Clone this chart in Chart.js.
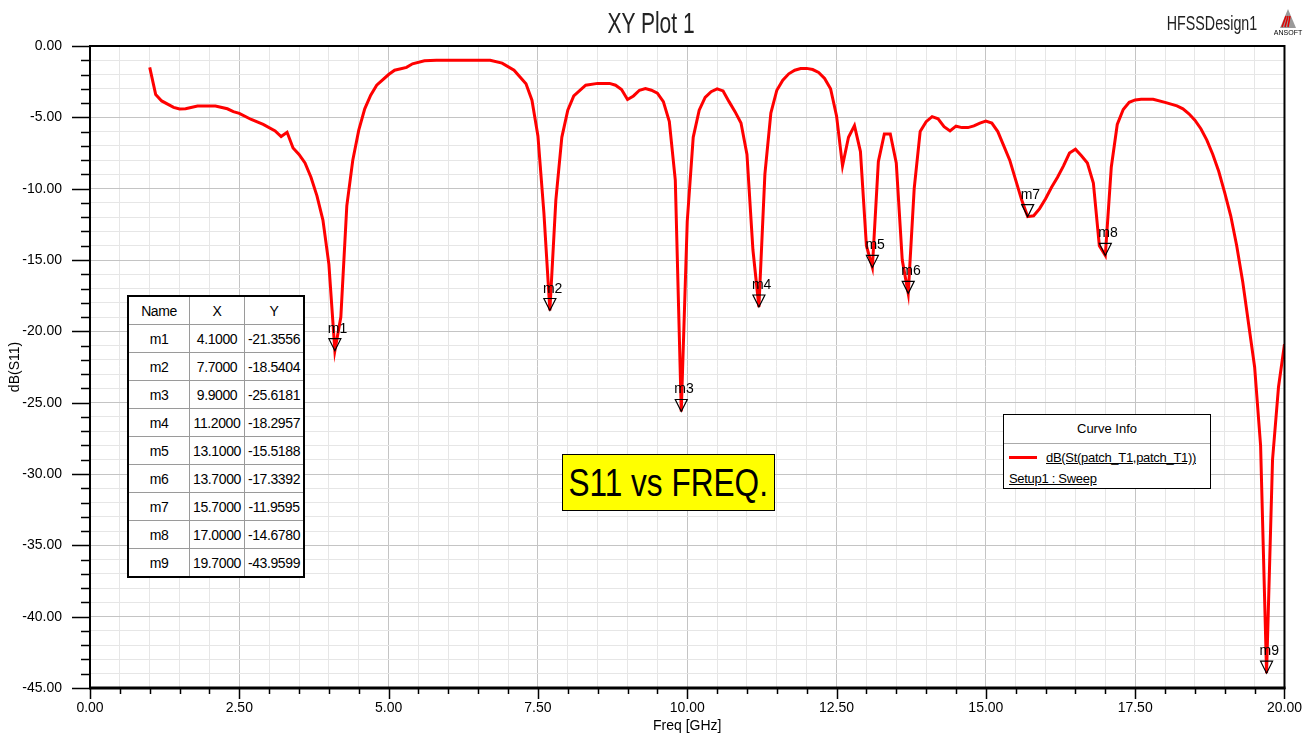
<!DOCTYPE html>
<html>
<head>
<meta charset="utf-8">
<script src="https://cdn.jsdelivr.net/npm/chart.js@4.4.1/dist/chart.umd.min.js"></script>
<style>
body { margin: 0; background: #fff; font-family: 'Liberation Sans', Arial, sans-serif; }
#wrap { position: relative; width: 1314px; height: 743px; overflow: hidden; }
#plot { position: absolute; left: 0; top: 0; }
.txt { position: absolute; white-space: nowrap; color: #000; line-height: 1; }
#title { left: 551px; top: 8px; width: 200px; text-align: center; font-size: 30px; color: #222; transform: scaleX(0.7); }
#design { left: 1112px; top: 12px; width: 200px; text-align: center; font-size: 21px; color: #222; transform: scaleX(0.68); }
#logo { position: absolute; left: 1274px; top: 8px; }
#markers { position: absolute; left: 127px; top: 295px; border-collapse: collapse; border: 2px solid #000; background: #fff; font-size: 14px; letter-spacing: -0.4px; }
#markers td { border: 1px solid #9a9a9a; height: 27px; padding: 0; text-align: center; }
#s11box { position: absolute; left: 562px; top: 454px; width: 213px; height: 57px; box-sizing: border-box; border: 1px solid #000; background: #ffff00; display: flex; align-items: center; justify-content: center; }
#s11box span { font-size: 39px; line-height: 1; transform: scaleX(0.81); white-space: nowrap; }
#curveinfo { position: absolute; left: 1003px; top: 414px; width: 208px; height: 75px; box-sizing: border-box; border: 1.5px solid #000; background: #fff; font-size: 13px; }
#curveinfo .head { height: 28px; line-height: 28px; text-align: center; border-bottom: 1px solid #aaa; }
#curveinfo .row1 { position: absolute; left: 42px; top: 35px; text-decoration: underline; letter-spacing: -0.3px; }
#curveinfo .swatch { position: absolute; left: 5px; top: 41px; width: 28px; height: 3px; background: #ff0000; }
#curveinfo .row2 { position: absolute; left: 5px; top: 56px; text-decoration: underline; letter-spacing: -0.3px; }
</style>
</head>
<body>
<div id="wrap">
  <canvas id="plot" width="1314" height="743"></canvas>
  <div id="title" class="txt">XY Plot 1</div>
  <div id="design" class="txt">HFSSDesign1</div>
  <svg id="logo" width="32" height="30" viewBox="0 0 32 30">
    <polygon points="14,1 6,20 22,20" fill="#9a9a9a"/>
    <line x1="12" y1="8" x2="8" y2="19" stroke="#e00000" stroke-width="1.5"/>
    <line x1="14" y1="8" x2="11" y2="19" stroke="#e00000" stroke-width="1.5"/>
    <line x1="16" y1="8" x2="14" y2="19" stroke="#e00000" stroke-width="1.5"/>
    <text x="14" y="27" font-size="7" text-anchor="middle" font-family="Liberation Sans, Arial" fill="#000">ANSOFT</text>
  </svg>
  <table id="markers"></table>
  <div id="s11box"><span>S11 vs FREQ.</span></div>
  <div id="curveinfo">
    <div class="head">Curve Info</div>
    <div class="swatch"></div>
    <div class="row1">dB(St(patch_T1,patch_T1))</div>
    <div class="row2">Setup1 : Sweep</div>
  </div>
</div>
<script>
// S11 CURVE
const freqGHz = [
  1.0, 1.1, 1.2, 1.4, 1.5, 1.6, 1.8, 2.1, 2.3, 2.4, 2.5, 2.7, 2.9, 3.1, 3.2, 3.3, 3.4, 3.5, 3.6, 3.7,
  3.8, 3.9, 4.0, 4.1, 4.2, 4.3, 4.4, 4.5, 4.6, 4.7, 4.8, 5.0, 5.1, 5.3, 5.4, 5.6, 5.8, 6.7, 6.9, 7.1,
  7.3, 7.4, 7.5, 7.6, 7.7, 7.8, 7.9, 8.0, 8.1, 8.3, 8.5, 8.7, 8.8, 8.9, 9.0, 9.1, 9.2, 9.3, 9.4, 9.5,
  9.6, 9.7, 9.8, 9.9, 10.0, 10.1, 10.2, 10.3, 10.4, 10.5, 10.6, 10.7, 10.8, 10.9, 11.0, 11.1, 11.2, 11.3, 11.4, 11.5,
  11.6, 11.7, 11.8, 11.9, 12.0, 12.1, 12.2, 12.3, 12.4, 12.5, 12.6, 12.7, 12.8, 12.9, 13.0, 13.1, 13.2, 13.3, 13.4, 13.5,
  13.6, 13.7, 13.8, 13.9, 14.0, 14.1, 14.2, 14.3, 14.4, 14.5, 14.6, 14.7, 14.8, 14.9, 15.0, 15.1, 15.2, 15.3, 15.4, 15.5,
  15.6, 15.7, 15.8, 15.9, 16.0, 16.1, 16.2, 16.3, 16.4, 16.5, 16.6, 16.7, 16.8, 16.9, 17.0, 17.1, 17.2, 17.3, 17.4, 17.5,
  17.6, 17.8, 18.0, 18.2, 18.3, 18.4, 18.5, 18.6, 18.7, 18.8, 18.9, 19.0, 19.1, 19.2, 19.3, 19.4, 19.5, 19.6, 19.7, 19.8,
  19.9, 20.0
];
const s11dB = [
  -1.5, -3.4, -3.85, -4.3, -4.42, -4.4, -4.2, -4.2, -4.4, -4.6, -4.72, -5.15, -5.5, -5.95, -6.35, -6.05, -7.15, -7.6, -8.2, -9.2,
  -10.5, -12.2, -15.3, -21.3556, -19.0, -11.2, -8.0, -5.9, -4.4, -3.45, -2.75, -2.0, -1.7, -1.5, -1.25, -1.03, -1.0, -1.0, -1.2, -1.7,
  -2.65, -3.8, -6.3, -11.7, -18.5404, -10.8, -6.4, -4.5, -3.5, -2.75, -2.62, -2.62, -2.75, -3.05, -3.75, -3.5, -3.1, -2.98, -3.1, -3.3,
  -3.9, -5.3, -9.4, -25.6181, -12.3, -6.4, -4.5, -3.6, -3.2, -3.0, -3.15, -3.9, -4.6, -5.4, -7.6, -14.3, -18.2957, -9.0, -4.7, -3.1,
  -2.4, -1.95, -1.7, -1.58, -1.57, -1.65, -1.85, -2.27, -3.0, -4.9, -8.4, -6.4, -5.58, -7.4, -14.0, -15.5188, -8.1, -6.17, -6.17, -8.2,
  -15.0, -17.3392, -10.0, -6.0, -5.3, -4.95, -5.1, -5.65, -5.95, -5.62, -5.72, -5.72, -5.6, -5.4, -5.26, -5.4, -6.0, -7.0, -8.0, -9.4,
  -10.8, -11.9595, -11.9, -11.4, -10.7, -9.9, -9.2, -8.4, -7.5, -7.24, -7.7, -8.2, -9.6, -14.0, -14.678, -8.5, -5.5, -4.45, -3.95, -3.78,
  -3.74, -3.74, -3.95, -4.2, -4.4, -4.75, -5.2, -5.8, -6.6, -7.6, -8.8, -10.3, -11.9, -14.0, -16.5, -19.5, -22.5, -28.0, -43.9599, -29.0,
  -23.9, -20.9
];

// MARKERS
const markerNames = ['m1', 'm2', 'm3', 'm4', 'm5', 'm6', 'm7', 'm8', 'm9'];
const markerFreq = [4.1, 7.7, 9.9, 11.2, 13.1, 13.7, 15.7, 17.0, 19.7];
const markerDb = [-21.3556, -18.5404, -25.6181, -18.2957, -15.5188, -17.3392, -11.9595, -14.678, -43.9599];

// AXIS TICKS
let xTickValues = [];
for (let i = 0; i <= 40; i++) xTickValues.push(i * 0.5);
let yTickValues = [];
for (let i = 0; i <= 45; i++) yTickValues.push(-i);

const FONT = "'Liberation Sans', Arial, sans-serif";

function isMajorX(v) { return Math.abs(v / 2.5 - Math.round(v / 2.5)) < 1e-6; }
function isMajorY(v) { return Math.abs(v / 5 - Math.round(v / 5)) < 1e-6; }

// MARKER TABLE
let table = document.querySelector('#markers');
let head = '<tr><td style="width:60px">Name</td><td style="width:54px">X</td><td style="width:58px">Y</td></tr>';
let rows = markerNames.map((n, i) =>
    `<tr><td>${n}</td><td>${markerFreq[i].toFixed(4)}</td><td>${markerDb[i].toFixed(4)}</td></tr>`
).join('');
table.innerHTML = head + rows;

// FRAME, TICKS AND MARKERS
const hfssPlugin = {
    id: 'hfss',
    afterDatasetsDraw(chart) {
        let ctx = chart.ctx;
        let area = chart.chartArea;
        let xs = chart.scales.x;
        let ys = chart.scales.y;
        ctx.save();
        ctx.strokeStyle = '#000';
        ctx.lineWidth = 2;
        ctx.strokeRect(area.left, area.top, area.right - area.left, area.bottom - area.top);
        ctx.lineWidth = 3;
        ctx.beginPath();
        ctx.moveTo(area.left - 1, area.bottom);
        ctx.lineTo(area.right + 1, area.bottom);
        ctx.stroke();

        // ticks
        ctx.lineWidth = 1.5;
        ctx.beginPath();
        xTickValues.forEach(v => {
            let px = Math.round(xs.getPixelForValue(v)) + 0.5;
            ctx.moveTo(px, area.bottom);
            ctx.lineTo(px, area.bottom + (isMajorX(v) ? 11 : 6));
        });
        yTickValues.forEach(v => {
            let py = Math.round(ys.getPixelForValue(v)) + 0.5;
            ctx.moveTo(area.left, py);
            ctx.lineTo(area.left - (isMajorY(v) ? 18 : 9), py);
        });
        ctx.stroke();

        // markers
        ctx.font = '14px ' + FONT;
        ctx.fillStyle = '#000';
        ctx.textAlign = 'left';
        ctx.textBaseline = 'alphabetic';
        ctx.lineWidth = 1.2;
        markerNames.forEach((n, i) => {
            let px = xs.getPixelForValue(markerFreq[i]);
            let py = ys.getPixelForValue(markerDb[i]);
            ctx.beginPath();
            ctx.moveTo(px, py);
            ctx.lineTo(px - 6, py - 12);
            ctx.lineTo(px + 6, py - 12);
            ctx.closePath();
            ctx.stroke();
            ctx.fillText(n, px - 7, py - 18);
        });
        ctx.restore();
    }
};

let ctx = document.querySelector('#plot').getContext('2d');

let s11Chart = new Chart(ctx, {
    type: 'line',
    data: {
        datasets: [{
            label: 'dB(St(patch_T1,patch_T1))',
            data: freqGHz.map((f, i) => ({ x: f, y: s11dB[i] })),
            borderColor: '#ff0000',
            borderWidth: 3,
            pointRadius: 0,
            tension: 0,
            fill: false
        }]
    },
    options: {
        responsive: false,
        animation: false,
        devicePixelRatio: 1,
        layout: {
            padding: { left: 0, right: 29, top: 46, bottom: 0 }
        },
        plugins: {
            legend: { display: false },
            title: { display: false },
            tooltip: { enabled: false }
        },
        scales: {
            x: {
                type: 'linear',
                min: 0,
                max: 20,
                afterBuildTicks: (scale) => { scale.ticks = xTickValues.map(v => ({ value: v })); },
                afterFit: (scale) => { scale.height = 55; },
                grid: {
                    drawTicks: false,
                    lineWidth: 1,
                    color: (c) => (c.tick && isMajorX(c.tick.value)) ? '#c4c4c4' : '#e6e6e6'
                },
                border: { color: '#000', width: 2 },
                ticks: {
                    autoSkip: false,
                    maxRotation: 0,
                    padding: 12,
                    color: '#000',
                    font: { size: 14, family: FONT },
                    callback: (v) => isMajorX(v) ? Number(v).toFixed(2) : ''
                },
                title: {
                    display: true,
                    text: 'Freq [GHz]',
                    color: '#000',
                    font: { size: 14, family: FONT },
                    padding: { top: 0, bottom: 8 }
                }
            },
            y: {
                type: 'linear',
                min: -45,
                max: 0,
                afterBuildTicks: (scale) => { scale.ticks = yTickValues.map(v => ({ value: v })); },
                afterFit: (scale) => { scale.width = 90; },
                grid: {
                    drawTicks: false,
                    lineWidth: 1,
                    color: (c) => (c.tick && isMajorY(c.tick.value)) ? '#c4c4c4' : '#e6e6e6'
                },
                border: { color: '#000', width: 2 },
                ticks: {
                    autoSkip: false,
                    padding: 28,
                    color: '#000',
                    font: { size: 14, family: FONT },
                    callback: (v) => isMajorY(v) ? Number(v).toFixed(2) : ''
                },
                title: {
                    display: true,
                    text: 'dB(S11)',
                    color: '#000',
                    font: { size: 14, family: FONT },
                    padding: { top: 7, bottom: 0 }
                }
            }
        }
    },
    plugins: [hfssPlugin]
});
</script>
</body>
</html>
